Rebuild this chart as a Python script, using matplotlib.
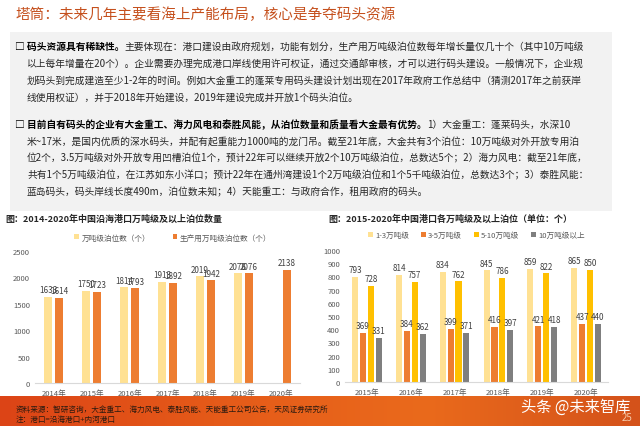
import numpy as np
import matplotlib
matplotlib.use("Agg")
import matplotlib.pyplot as plt
from matplotlib.colors import LinearSegmentedColormap

plt.rcParams['font.family'] = ['Noto Sans CJK SC', 'DejaVu Sans']

W, H = 640, 427

# ---- data ----
years_left = ['2014年', '2015年', '2016年', '2017年', '2018年', '2019年', '2020年']
berths_all = [1633, 1750, 1814, 1913, 2019, 2076, np.nan]
berths_prod = [1614, 1723, 1793, 1892, 1942, 2076, 2138]

years_right = ['2015年', '2016年', '2017年', '2018年', '2019年', '2020年']
size_1_3 = [793, 814, 834, 845, 859, 865]
size_3_5 = [369, 384, 399, 416, 421, 437]
size_5_10 = [728, 757, 762, 786, 822, 850]
size_10_up = [331, 362, 371, 397, 418, 440]
right_labels = ['1-3万吨级', '3-5万吨级', '5-10万吨级', '10万吨级以上']

title = '塔筒：未来几年主要看海上产能布局，核心是争夺码头资源'
para1_bold = '码头资源具有稀缺性。'
para1 = ['主要体现在：港口建设由政府规划，功能有划分，生产用万吨级泊位数每年增长量仅几十个（其中10万吨级',
         '以上每年增量在20个）。企业需要办理完成港口岸线使用许可权证，通过交通部审核，才可以进行码头建设。一般情况下，企业规',
         '划码头到完成建造至少1-2年的时间。例如大金重工的蓬莱专用码头建设计划出现在2017年政府工作总结中（猜测2017年之前获岸',
         '线使用权证），并于2018年开始建设，2019年建设完成并开放1个码头泊位。']
para2_bold = '目前自有码头的企业有大金重工、海力风电和泰胜风能，从泊位数量和质量看大金最有优势。'
para2 = ['1）大金重工：蓬莱码头，水深10',
         '米~17米，是国内优质的深水码头，并配有起重能力1000吨的龙门吊。截至21年底，大金共有3个泊位：10万吨级对外开放专用泊',
         '位2个，3.5万吨级对外开放专用凹槽泊位1个，预计22年可以继续开放2个10万吨级泊位，总数达5个；2）海力风电：截至21年底，',
         '共有1个5万吨级泊位，在江苏如东小洋口；预计22年在通州湾建设1个2万吨级泊位和1个5千吨级泊位，总数达3个；3）泰胜风能：',
         '蓝岛码头，码头岸线长度490m，泊位数未知；4）天能重工：与政府合作，租用政府的码头。']

PALE = '#FFE193'
ORANGE = '#ED7D31'
YELLOW = '#FFC000'
GRAY = '#7F7F7F'
TXT = '#262626'


def fx(x):
    return x / W


def fy(y):
    return 1 - y / H


fig = plt.figure(figsize=(6.4, 4.27), dpi=100)
fig.patch.set_facecolor('white')
renderer = fig.canvas.get_renderer()

# title
fig.text(fx(16), fy(15), title, fontsize=10.5, color='#C5501D', va='center', ha='left')

# grey text box
box = fig.add_axes([fx(10), fy(212), fx(602), (212 - 33) / H])
box.set_facecolor('#F2F2F2')
box.set_xticks([])
box.set_yticks([])
for s in box.spines.values():
    s.set_visible(False)


def bullet_para(y0, bold, lines, dy=16.8):
    t1 = fig.text(fx(15), fy(y0), '□ ' + bold, fontsize=7, fontweight='bold',
                  color='black', va='center', ha='left')
    bb = t1.get_window_extent(renderer)
    fig.text(bb.x1 / fig.dpi / fig.get_figwidth(), fy(y0), lines[0], fontsize=7,
             color=TXT, va='center', ha='left')
    for i, ln in enumerate(lines[1:]):
        fig.text(fx(27), fy(y0 + dy * (i + 1)), ln, fontsize=7, color=TXT,
                 va='center', ha='left')


bullet_para(47, para1_bold, para1)
bullet_para(125, para2_bold, para2)

# chart titles
fig.text(fx(5), fy(219), '图：2014-2020年中国沿海港口万吨级及以上泊位数量', fontsize=6.5,
         fontweight='bold', color=TXT, va='center')
fig.text(fx(328), fy(219), '图：2015-2020年中国港口各万吨级及以上泊位（单位：个）', fontsize=6.5,
         fontweight='bold', color=TXT, va='center')


def style_axes(ax):
    for s in ['top', 'right', 'left']:
        ax.spines[s].set_visible(False)
    ax.spines['bottom'].set_color('#D9D9D9')
    ax.tick_params(axis='both', length=0, labelsize=5.5, labelcolor='#595959')
    ax.tick_params(axis='x', pad=4)


# ---- left chart ----
axl = fig.add_axes([fx(35), fy(384), fx(265), (384 - 252) / H])
xl = np.arange(len(years_left))
bw = 0.21
axl.bar(xl - 0.145, berths_all, bw, color=PALE, label='万吨级泊位数（个）')
axl.bar(xl + 0.145, berths_prod, bw, color=ORANGE, label='生产用万吨级泊位数（个）')
for i in range(len(xl)):
    if not np.isnan(berths_all[i]):
        axl.text(xl[i] - 0.145, berths_all[i] + 50, f'{berths_all[i]:.0f}', ha='center',
                 va='bottom', fontsize=5.8, color='#404040')
    axl.text(xl[i] + 0.145, berths_prod[i] + 50, f'{berths_prod[i]}', ha='center',
             va='bottom', fontsize=5.8, color='#404040')
axl.set_xlim(-0.5, len(xl) - 0.5)
axl.set_ylim(0, 2500)
axl.set_yticks(range(0, 2501, 500))
axl.set_xticks(xl)
axl.set_xticklabels(years_left)
style_axes(axl)
axl.legend(loc='lower center', bbox_to_anchor=(0.52, 1.02), ncol=2, frameon=False,
           fontsize=5.5, handlelength=0.6, handleheight=0.6, columnspacing=3,
           handletextpad=0.3, labelcolor='#595959')

# ---- right chart ----
axr = fig.add_axes([fx(345), fy(383), fx(263), (383 - 251) / H])
xr = np.arange(len(years_right))
series = [size_1_3, size_3_5, size_5_10, size_10_up]
colors = [PALE, ORANGE, YELLOW, GRAY]
offsets = [-0.27, -0.09, 0.09, 0.27]
for vals, c, off, lab in zip(series, colors, offsets, right_labels):
    axr.bar(xr + off, vals, 0.14, color=c, label=lab)
    for i, v in enumerate(vals):
        axr.text(xr[i] + off, v + 22, str(v), ha='center', va='bottom',
                 fontsize=5.8, color='#404040')
axr.set_xlim(-0.5, len(xr) - 0.5)
axr.set_ylim(0, 1000)
axr.set_yticks(range(0, 1001, 100))
axr.set_xticks(xr)
axr.set_xticklabels(years_right)
style_axes(axr)
axr.legend(loc='lower center', bbox_to_anchor=(0.5, 1.03), ncol=4, frameon=False,
           fontsize=5.5, handlelength=0.6, handleheight=0.6, columnspacing=1.6,
           handletextpad=0.3, labelcolor='#595959')

# ---- footer band ----
foot = fig.add_axes([0, 0, 1, 30 / H])
cmap = LinearSegmentedColormap.from_list('foot', ['#DC4416', '#E55A19', '#EA6A1C', '#D4521A'])
foot.imshow(np.linspace(0, 1, 256)[None, :], aspect='auto', cmap=cmap, extent=[0, 1, 0, 1])
foot.set_axis_off()
fig.text(fx(16), fy(410), '资料来源：智研咨询，大金重工、海力风电、泰胜风能、天能重工公司公告，天风证券研究所',
         fontsize=5.5, color='#2A1A10', va='center')
fig.text(fx(16), fy(420), '注：港口=沿海港口+内河港口', fontsize=5.5, color='#2A1A10', va='center')
fig.text(fx(630), fy(407), '头条 @未来智库', fontsize=11, color='white', ha='right', va='center')
fig.text(fx(632), fy(418), '25', fontsize=7, color='#F5C9A8', ha='right', va='center')

fig.savefig('out.png', dpi=100)
